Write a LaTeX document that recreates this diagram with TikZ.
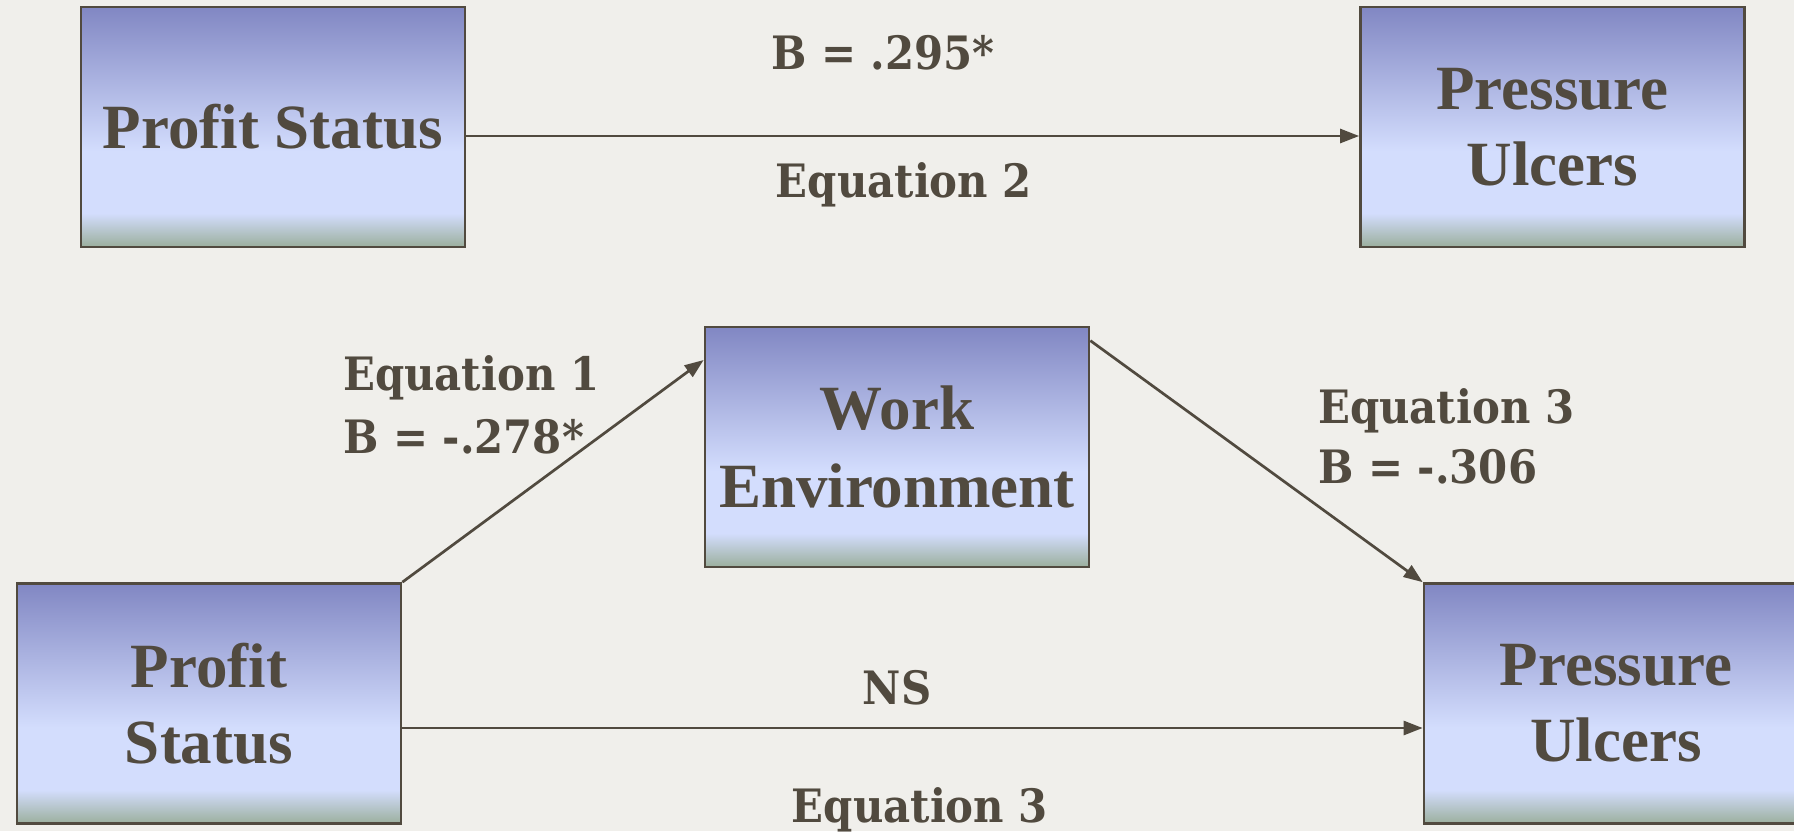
\documentclass[tikz,border=0pt]{standalone}
\usepackage{fontspec}
\usepackage{xcolor}
\usepackage{tikz}
\usetikzlibrary{arrows.meta}
\setmainfont{Liberation Serif}
\newfontfamily\eqfont{DejaVu Serif}[FakeStretch=0.91]

\definecolor{inkbrown}{HTML}{514A3F}
\definecolor{paper}{HTML}{F0EFEB}
\definecolor{shadetop}{HTML}{8187C3}
\definecolor{shadelight}{HTML}{D3DDFD}
\definecolor{shadebot}{HTML}{9BAF9D}
\pgfdeclareverticalshading{varshade}{100bp}{color(0bp)=(shadebot); color(25bp)=(shadebot);
  color(32bp)=(shadelight); color(45bp)=(shadelight); color(75bp)=(shadetop); color(100bp)=(shadetop)}

\begin{document}
\begin{tikzpicture}[x=1pt, y=-1pt,
  varbox/.style={draw=inkbrown, line width=2.7pt, shade, shading=varshade,
    minimum width=384pt, minimum height=240pt, inner sep=0pt, align=center,
    text=inkbrown, font=\bfseries\fontsize{63}{76}\selectfont},
  eqlabel/.style={text=inkbrown, inner sep=0pt, font=\eqfont\bfseries\fontsize{46}{63}\selectfont},
  link/.style={draw=inkbrown, line width=2.7pt, -{Triangle[length=19pt,width=14pt]}}]
  \fill[paper] (0,0) rectangle (1794,831);
  \useasboundingbox (0,0) rectangle (1794,831);
  \clip (0,0) rectangle (1794,831);

  % top row: total effect
  \node[varbox] (ps1) at (273,127) {Profit Status};
  \node[varbox] (pu1) at (1552.5,127) {Pressure\\Ulcers};
  \draw[link] ([yshift=-9pt]ps1.east) -- ([yshift=-9pt]pu1.west);
  \node[eqlabel, anchor=base] (b2) at (883,69) {B = .295*};
  \node[eqlabel, anchor=base] (eq2) at (904,197) {Equation 2};

  % bottom: mediated model
  \node[varbox, font=\bfseries\fontsize{63}{78}\selectfont] (we) at (897,447) {Work\\Environment};
  \node[varbox] (ps2) at (209,703.5) {Profit\\Status};
  \node[varbox] (pu2) at (1616,703.5) {Pressure\\Ulcers};

  \draw[link] (ps2.north east) -- ([yshift=87pt]we.west);
  \draw[link] ([yshift=-15pt]we.north east) -- (pu2.north west);
  \draw[link] ([yshift=-24.5pt]ps2.east) -- ([yshift=-24.5pt]pu2.west);

  \node[eqlabel, anchor=north west, align=left] (eq1) at (343,355) {Equation 1\\B = -.278*};
  \node[eqlabel, anchor=north west, align=left,
    font=\eqfont\bfseries\fontsize{46}{60}\selectfont] (eq3a) at (1318,388) {Equation 3\\B = -.306};
  \node[eqlabel, anchor=base] (ns) at (897,704) {NS};
  \node[eqlabel, anchor=base] (eq3b) at (920,822) {Equation 3};
\end{tikzpicture}
\end{document}
